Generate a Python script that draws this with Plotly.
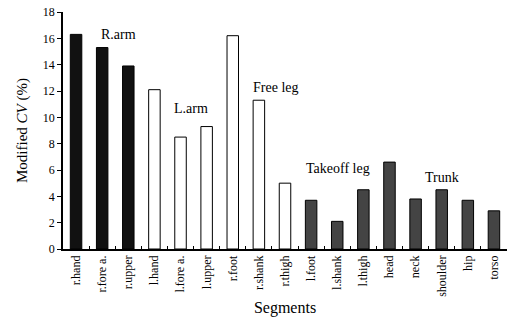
import plotly.graph_objects as go

segments = ["r.hand", "r.fore a.", "r.upper", "l.hand", "l.fore a.", "l.upper",
            "r.foot", "r.shank", "r.thigh", "l.foot", "l.shank", "l.thigh",
            "head", "neck", "shoulder", "hip", "torso"]
values = [16.3, 15.3, 13.9, 12.1, 8.5, 9.3,
          16.2, 11.3, 5.0, 3.7, 2.1, 4.5,
          6.6, 3.8, 4.5, 3.7, 2.9]
groups = ["R.arm"] * 3 + ["L.arm"] * 3 + ["Free leg"] * 3 + ["Takeoff leg"] * 3 + ["Trunk"] * 5
group_colors = {"R.arm": "#111111", "L.arm": "#ffffff", "Free leg": "#ffffff",
                "Takeoff leg": "#444444", "Trunk": "#444444"}
group_labels = ["R.arm", "L.arm", "Free leg", "Takeoff leg", "Trunk"]
label_x = [1.64, 4.4, 7.63, 10.04, 14.0]
label_y = [16.3, 10.7, 12.3, 6.15, 5.4]

serif = "Liberation Serif"

fig = go.Figure()
fig.add_trace(go.Bar(
    x=segments, y=values,
    marker=dict(color=[group_colors[g] for g in groups],
                line=dict(color="black", width=1)),
    width=0.44,
    showlegend=False,
))

for lab, lx, ly in zip(group_labels, label_x, label_y):
    fig.add_annotation(x=lx, y=ly, xref="x", yref="y", text=lab, showarrow=False,
                       font=dict(family=serif, size=14, color="black"))

fig.update_layout(
    width=508, height=326,
    margin=dict(l=63, r=1, t=12, b=77),
    paper_bgcolor="white", plot_bgcolor="white",
    font=dict(family=serif, color="black"),
)
fig.update_xaxes(
    type="category", range=[-0.5, len(segments) - 0.5],
    automargin=False,
    showline=True, linecolor="black", linewidth=1.5,
    ticks="inside", tickson="boundaries", ticklen=3, tickcolor="black",
    tickangle=-90, tickfont=dict(family=serif, size=12),
    title=dict(text="Segments", font=dict(family=serif, size=16), standoff=6),
    showgrid=False,
)
fig.update_yaxes(
    range=[0, 18], dtick=2,
    automargin=False,
    showline=True, linecolor="black", linewidth=1.5,
    ticks="outside", ticklen=4, tickcolor="black",
    tickfont=dict(family=serif, size=12),
    title=dict(text="Modified <i>CV</i> (%)", font=dict(family=serif, size=15), standoff=12),
    showgrid=False, zeroline=False,
)

fig.write_html("out.html", config={"displayModeBar": False},
               post_script="document.body.style.margin='0';")
